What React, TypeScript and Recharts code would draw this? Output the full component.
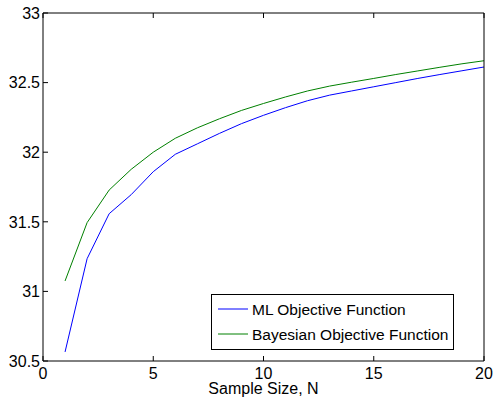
import React from "react";
import { LineChart, Line, XAxis, YAxis } from "recharts";

const sampleSizes = [1, 2, 3, 4, 5, 6, 7, 8, 9, 10, 11, 12, 13, 14, 15, 16, 17, 18, 19, 20];
const mlValues = [30.565, 31.235, 31.558, 31.695, 31.86, 31.985, 32.06, 32.135, 32.205, 32.265, 32.32, 32.37, 32.41, 32.44, 32.47, 32.5, 32.53, 32.558, 32.585, 32.612];
const bayesValues = [31.075, 31.494, 31.728, 31.877, 32.0, 32.1, 32.175, 32.24, 32.3, 32.35, 32.397, 32.44, 32.475, 32.503, 32.53, 32.558, 32.584, 32.61, 32.635, 32.657];
const xTicks = [0, 5, 10, 15, 20];
const yTicks = [30.5, 31, 31.5, 32, 32.5, 33];
const xLabel = "Sample Size, N";
const seriesNames = ["ML Objective Function", "Bayesian Objective Function"];
const seriesColors = ["#0000ff", "#008000"];

const data = sampleSizes.map((n, i) => ({ n, ml: mlValues[i], bayes: bayesValues[i] }));

const FONT = "'Liberation Sans', Arial, Helvetica, sans-serif";
const TICK = 5;

const BottomTick = (props: any) => {
  const { x, y, payload } = props;
  return (
    <g>
      <line x1={x} y1={y} x2={x} y2={y - TICK} stroke="#000" strokeWidth={1} />
      <text x={x} y={y + 17.5} textAnchor="middle" fontSize={16} fontFamily={FONT} fill="#000">
        {payload.value}
      </text>
    </g>
  );
};

const LeftTick = (props: any) => {
  const { x, y, payload } = props;
  return (
    <g>
      <line x1={x} y1={y} x2={x + TICK} y2={y} stroke="#000" strokeWidth={1} />
      <text x={x - 3} y={y + 5.7} textAnchor="end" fontSize={16} fontFamily={FONT} fill="#000">
        {payload.value}
      </text>
    </g>
  );
};

const TopTick = (props: any) => {
  const { x, y } = props;
  return <line x1={x} y1={y} x2={x} y2={y + TICK} stroke="#000" strokeWidth={1} />;
};

const RightTick = (props: any) => {
  const { x, y } = props;
  return <line x1={x} y1={y} x2={x - TICK} y2={y} stroke="#000" strokeWidth={1} />;
};

const LegendBox = () => (
  <svg width={243} height={56} style={{ display: "block" }}>
    <rect x={0.5} y={0.5} width={242} height={55} fill="#fff" stroke="#000" strokeWidth={1} />
    {seriesNames.map((name, i) => (
      <g key={name}>
        <line x1={7} x2={37} y1={15 + i * 25} y2={15 + i * 25} stroke={seriesColors[i]} strokeWidth={1} />
        <text x={41} y={15 + i * 25 + 5.5} fontSize={15.5} fontFamily={FONT} fill="#000">
          {name}
        </text>
      </g>
    ))}
  </svg>
);

export default function App() {
  return (
    <div style={{ position: "absolute", left: 0, top: 0, width: 494, height: 397, background: "#fff" }}>
      <LineChart width={494} height={397} data={data} margin={{ top: 12, right: 9, left: 0, bottom: 0 }}>
        <XAxis
          xAxisId="b"
          dataKey="n"
          type="number"
          domain={[0, 20]}
          ticks={xTicks}
          height={36}
          tickSize={0}
          tickMargin={0}
          tickLine={false}
          axisLine={{ stroke: "#000" }}
          tick={<BottomTick />}
          interval={0}
          label={{ value: xLabel, position: "insideBottom", offset: 3, fontSize: 16, fontFamily: FONT, fill: "#000" }}
        />
        <XAxis
          xAxisId="t"
          dataKey="n"
          type="number"
          orientation="top"
          domain={[0, 20]}
          ticks={xTicks}
          height={1}
          tickSize={0}
          tickMargin={0}
          tickLine={false}
          axisLine={{ stroke: "#000" }}
          tick={<TopTick />}
          interval={0}
        />
        <YAxis
          yAxisId="l"
          type="number"
          domain={[30.5, 33]}
          ticks={yTicks}
          width={43}
          tickSize={0}
          tickMargin={0}
          tickLine={false}
          axisLine={{ stroke: "#000" }}
          tick={<LeftTick />}
          interval={0}
        />
        <YAxis
          yAxisId="r"
          type="number"
          orientation="right"
          domain={[30.5, 33]}
          ticks={yTicks}
          width={1}
          tickSize={0}
          tickMargin={0}
          tickLine={false}
          axisLine={{ stroke: "#000" }}
          tick={<RightTick />}
          interval={0}
        />
        <Line
          xAxisId="b"
          yAxisId="l"
          type="linear"
          dataKey="ml"
          name={seriesNames[0]}
          stroke={seriesColors[0]}
          strokeWidth={1}
          dot={false}
          isAnimationActive={false}
        />
        <Line
          xAxisId="b"
          yAxisId="l"
          type="linear"
          dataKey="bayes"
          name={seriesNames[1]}
          stroke={seriesColors[1]}
          strokeWidth={1}
          dot={false}
          isAnimationActive={false}
        />
      </LineChart>
      <div style={{ position: "absolute", left: 211, top: 294 }}>
        <LegendBox />
      </div>
    </div>
  );
}
